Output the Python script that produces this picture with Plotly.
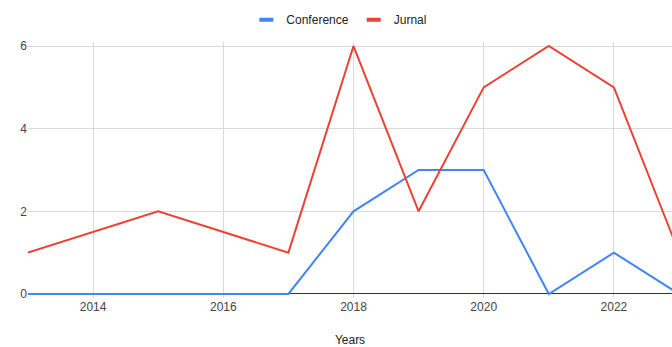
import plotly.graph_objects as go

years = [2013, 2015, 2017, 2018, 2019, 2020, 2021, 2022, 2023]
conference = [0, 0, 0, 2, 3, 3, 0, 1, 0]
jurnal = [1, 2, 1, 6, 2, 5, 6, 5, 1]

font = "Liberation Sans, Arial, sans-serif"
colors = {"Conference": "#4285F4", "Jurnal": "#EA4335"}

fig = go.Figure()
for name, vals in [("Conference", conference), ("Jurnal", jurnal)]:
    fig.add_trace(go.Scatter(x=years, y=vals, mode="lines", name=name, showlegend=False,
                             line=dict(color=colors[name], width=2)))
# legend keys (short thick bars)
for name in ["Conference", "Jurnal"]:
    fig.add_trace(go.Scatter(x=[None], y=[None], mode="markers", name=name,
                             marker=dict(symbol="line-ew", size=10,
                                         line=dict(color=colors[name], width=4))))

fig.update_layout(
    width=672, height=347,
    margin=dict(l=28, r=0, t=42, b=49),
    plot_bgcolor="white", paper_bgcolor="white",
    font=dict(family=font, size=12, color="#444444"),
    showlegend=True,
    legend=dict(orientation="h", x=0.505, xanchor="center", xref="container",
                y=0.985, yref="container", yanchor="top",
                font=dict(size=12, color="#222222"), itemwidth=30),
    xaxis=dict(range=[2013, 2013 + 644 / 65.1], tickmode="linear", tick0=2014, dtick=2,
               showgrid=True, gridcolor="#d9d9d9", gridwidth=1, zeroline=False,
               showline=False, ticks="", tickfont=dict(size=12, color="#444444"),
               title=dict(text="Years", font=dict(size=12, color="#222222"), standoff=23)),
    yaxis=dict(range=[-0.097, 6.097], tickmode="array", tickvals=[0, 2, 4, 6],
               showgrid=True, gridcolor="#d9d9d9", gridwidth=1,
               zeroline=True, zerolinecolor="#333333", zerolinewidth=1,
               showline=False, ticks="", tickfont=dict(size=12, color="#444444")),
)

fig.write_html("out.html")
